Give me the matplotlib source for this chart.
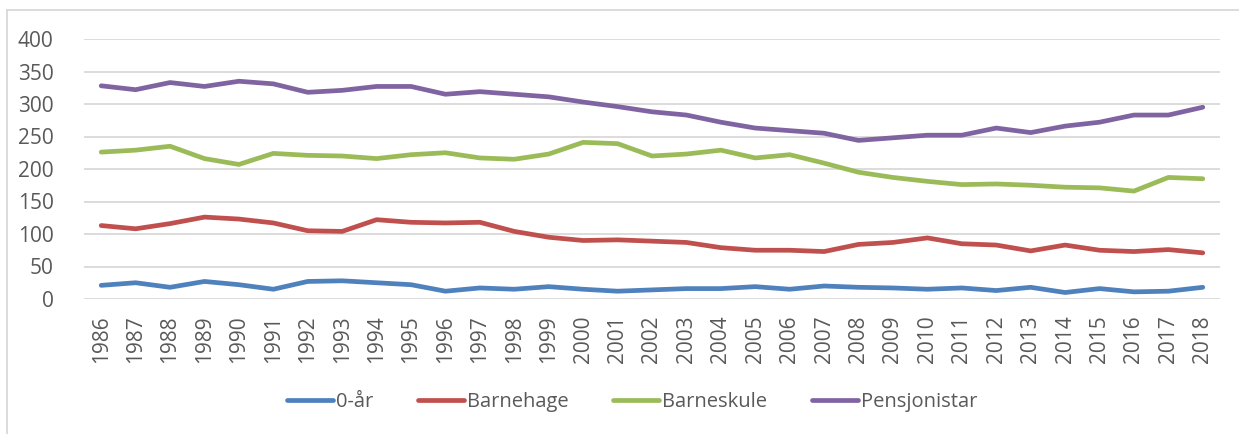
import matplotlib
matplotlib.use("Agg")
import matplotlib.pyplot as plt
from matplotlib.lines import Line2D

years = list(range(1986, 2019))
null_aar = [21, 25, 18, 27, 22, 15, 27, 28, 25, 22, 12, 17, 15, 19, 15, 12, 14, 16,
            16, 19, 15, 20, 18, 17, 15, 17, 13, 18, 10, 16, 11, 12, 18]
barnehage = [113, 108, 116, 126, 123, 117, 105, 104, 122, 118, 117, 118, 104, 95, 90,
             91, 89, 87, 79, 75, 75, 73, 84, 87, 94, 85, 83, 74, 83, 75, 73, 76, 71]
barneskule = [226, 229, 235, 216, 207, 224, 221, 220, 216, 222, 225, 217, 215, 223, 241,
              239, 220, 223, 229, 217, 222, 209, 195, 187, 181, 176, 177, 175, 172, 171,
              166, 187, 185]
pensjonistar = [328, 322, 333, 327, 335, 331, 318, 321, 327, 327, 315, 319, 315, 311, 303,
                296, 288, 283, 272, 263, 259, 255, 244, 248, 252, 252, 263, 256, 266, 272,
                283, 283, 295]
series_names = ["0-år", "Barnehage", "Barneskule", "Pensjonistar"]
colors = ["#4F81BD", "#C0504D", "#9BBB59", "#8064A2"]
yticks = [0, 50, 100, 150, 200, 250, 300, 350, 400]

plt.rcParams['font.family'] = ['Open Sans', 'DejaVu Sans']
W, H = 1239, 434
fig = plt.figure(figsize=(W / 100, H / 100), dpi=100)
ax = fig.add_axes([84 / W, 1 - 299 / H, (1220 - 84) / W, (299 - 39) / H])

for vals, name, c in zip([null_aar, barnehage, barneskule, pensjonistar], series_names, colors):
    ax.plot(years, vals, color=c, lw=3.4, solid_capstyle='round', solid_joinstyle='round', label=name)

ax.set_xlim(years[0] - 0.5, years[-1] + 0.5)
ax.set_ylim(0, 400)
ax.set_yticks(yticks)
ax.set_xticks(years)
ax.set_xticklabels([str(y) for y in years], rotation=90)
ax.tick_params(axis='both', length=0, labelsize=15, labelcolor='#595959')
ax.tick_params(axis='x', pad=12)
ax.tick_params(axis='y', pad=22)
ax.grid(axis='y', color='#D9D9D9', lw=1.3)
ax.set_axisbelow(True)
for s in ax.spines.values():
    s.set_visible(False)

handles = [Line2D([0], [0], color=c, lw=3.4, solid_capstyle='round') for c in colors]
fig.legend(handles, series_names, loc='center', bbox_to_anchor=(632 / W, 1 - 402 / H),
           ncol=4, frameon=False, fontsize=14.5, handlelength=2.3, handletextpad=0.15,
           columnspacing=2.2, labelcolor='#595959')

# chart border (partially cropped)
fig.add_artist(Line2D([7 / W, 7 / W], [0, 1 - 10 / H], color='#D9D9D9', lw=1.3, transform=fig.transFigure))
fig.add_artist(Line2D([7 / W, 1], [1 - 10 / H, 1 - 10 / H], color='#D9D9D9', lw=1.3, transform=fig.transFigure))

fig.savefig("out.png", dpi=100)
